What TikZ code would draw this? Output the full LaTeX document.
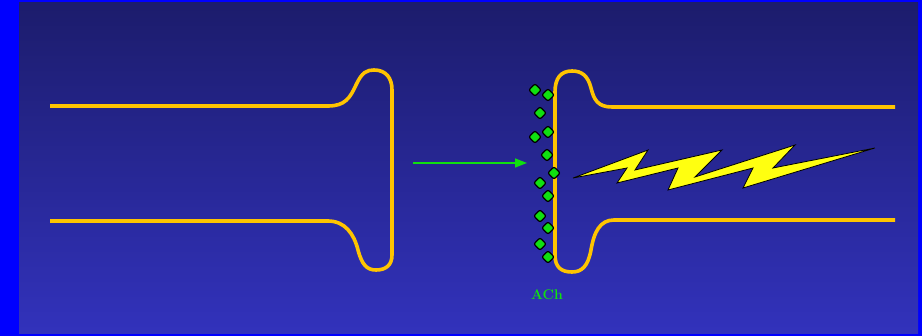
\documentclass[tikz,border=0pt]{standalone}
\usepackage{xcolor}
\usepackage{tikz}
\usetikzlibrary{arrows.meta, shapes.geometric}
\definecolor{frameblue}{HTML}{0000FF}
\definecolor{bgtop}{HTML}{1C1C6C}
\definecolor{bgbottom}{HTML}{3232BC}
\definecolor{nerve}{HTML}{FFC400}
\definecolor{bolt}{HTML}{FFFF10}
\definecolor{achgreen}{HTML}{10E010}
\tikzset{
  terminal/.style={draw=nerve, line width=3.6pt, line join=round},
  achdot/.style={diamond, fill=achgreen, draw=black, line width=1.2pt,
    rounded corners=2pt, inner sep=0pt, minimum width=13pt, minimum height=13pt},
}

\begin{document}
\begin{tikzpicture}[x=1pt, y=-1pt]
\useasboundingbox (0,0) rectangle (922,336);
\fill[frameblue] (0,0) rectangle (922,336);
\shade[top color=bgtop, bottom color=bgbottom] (19,3) rectangle (918,334);
\draw[terminal] (50,106) -- (328,106)
  .. controls (345,106) and (350,98) .. (356,85)
  .. controls (362,72) and (367,70) .. (374,70)
  .. controls (386,70) and (392,78) .. (392,90) -- (392,255)
  .. controls (392,265) and (386,270) .. (376,270)
  .. controls (367,270) and (362,265) .. (358,250)
  .. controls (354,234) and (345,221) .. (328,221) -- (50,221);
\draw[terminal] (895,107) -- (612,107)
  .. controls (598,107) and (594,100) .. (591,88)
  .. controls (588,76) and (582,71) .. (572,71)
  .. controls (561,71) and (555,78) .. (555,92) -- (555,255)
  .. controls (555,267) and (561,272) .. (572,272)
  .. controls (582,272) and (588,266) .. (591,250)
  .. controls (594,232) and (600,220) .. (614,220) -- (895,220);
\filldraw[fill=bolt, draw=black, line width=0.8pt, line join=miter]
  (573,178) -- (648,150) -- (635,170) -- (722,150) -- (695,177)
  -- (795,145) -- (773,168) -- (875,148) -- (743,188) -- (753,168)
  -- (668,190) -- (678,168) -- (617,183) -- (627,168) -- cycle;
\coordinate (release) at (413,163);
\coordinate (cleft) at (527,163);
\draw[achgreen, line width=1.6pt, -{Triangle[length=12pt, width=9pt]}]
  (release) -- (cleft);
\foreach \x/\y [count=\i] in {535/90, 548/95, 540/113, 548/132, 535/137,
    547/155, 554/173, 540/183, 548/196, 540/216, 548/228, 540/244, 548/257}
  \node[achdot] (ach\i) at (\x,\y) {};
\node[font=\fontsize{14}{16}\selectfont\bfseries, text=achgreen]
  (achlabel) at (547,295) {ACh};
\end{tikzpicture}
\end{document}
